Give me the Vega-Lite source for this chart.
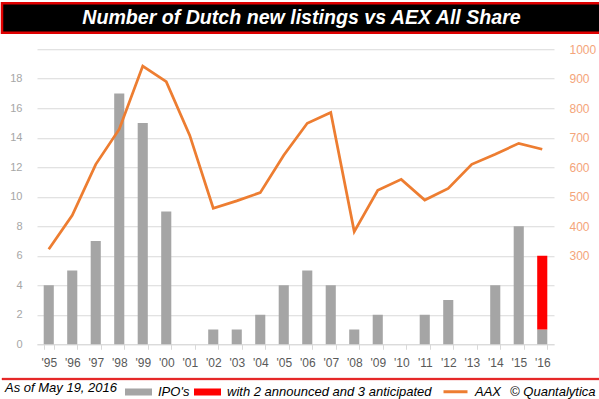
{
  "$schema": "https://vega.github.io/schema/vega-lite/v6.json",
  "padding": {"top": 1.25, "left": 0, "right": 0, "bottom": 0},
  "background": "white",
  "spacing": 9,
  "datasets": {
    "bars": [
      {"year": "'95", "type": "IPO's", "count": 4},
      {"year": "'96", "type": "IPO's", "count": 5},
      {"year": "'97", "type": "IPO's", "count": 7},
      {"year": "'98", "type": "IPO's", "count": 17},
      {"year": "'99", "type": "IPO's", "count": 15},
      {"year": "'00", "type": "IPO's", "count": 9},
      {"year": "'01", "type": "IPO's", "count": 0},
      {"year": "'02", "type": "IPO's", "count": 1},
      {"year": "'03", "type": "IPO's", "count": 1},
      {"year": "'04", "type": "IPO's", "count": 2},
      {"year": "'05", "type": "IPO's", "count": 4},
      {"year": "'06", "type": "IPO's", "count": 5},
      {"year": "'07", "type": "IPO's", "count": 4},
      {"year": "'08", "type": "IPO's", "count": 1},
      {"year": "'09", "type": "IPO's", "count": 2},
      {"year": "'10", "type": "IPO's", "count": 0},
      {"year": "'11", "type": "IPO's", "count": 2},
      {"year": "'12", "type": "IPO's", "count": 3},
      {"year": "'13", "type": "IPO's", "count": 0},
      {"year": "'14", "type": "IPO's", "count": 4},
      {"year": "'15", "type": "IPO's", "count": 8},
      {"year": "'16", "type": "IPO's", "count": 1},
      {"year": "'16", "type": "with 2 announced and 3 anticipated", "count": 5}
    ],
    "aax": [
      {"year": "'95", "aax": 322},
      {"year": "'96", "aax": 437},
      {"year": "'97", "aax": 610},
      {"year": "'98", "aax": 729},
      {"year": "'99", "aax": 943},
      {"year": "'00", "aax": 890},
      {"year": "'01", "aax": 708},
      {"year": "'02", "aax": 461},
      {"year": "'03", "aax": 486},
      {"year": "'04", "aax": 514},
      {"year": "'05", "aax": 641},
      {"year": "'06", "aax": 749},
      {"year": "'07", "aax": 786},
      {"year": "'08", "aax": 382},
      {"year": "'09", "aax": 522},
      {"year": "'10", "aax": 559},
      {"year": "'11", "aax": 489},
      {"year": "'12", "aax": 528},
      {"year": "'13", "aax": 610},
      {"year": "'14", "aax": 644},
      {"year": "'15", "aax": 681},
      {"year": "'16", "aax": 661}
    ]
  },
  "config": {
    "font": "Liberation Sans",
    "view": {"stroke": null},
    "legend": {
      "orient": "none",
      "direction": "horizontal",
      "labelFont": "Liberation Sans",
      "labelFontSize": 13,
      "labelFontStyle": "italic",
      "labelColor": "#000000",
      "labelLimit": 400,
      "titleFont": "Liberation Sans",
      "titleFontSize": 13,
      "titleFontStyle": "italic",
      "titleFontWeight": "normal",
      "titleColor": "#000000",
      "titleOrient": "left",
      "titleAnchor": "middle",
      "titleBaseline": "middle",
      "titleLimit": 300,
      "titlePadding": 7,
      "labelOffset": 6,
      "columnPadding": 4,
      "padding": 0
    }
  },
  "vconcat": [
    {
      "width": 599,
      "height": 29.5,
      "view": {"fill": "#000000", "stroke": "#e00000", "strokeWidth": 2.5},
      "data": {"values": [{"t": "Number of Dutch new listings vs AEX All Share"}]},
      "mark": {"type": "text", "color": "#ffffff", "font": "Liberation Sans", "fontSize": 19.6, "fontWeight": "bold", "fontStyle": "italic", "align": "center", "baseline": "middle"},
      "encoding": {
        "text": {"field": "t"},
        "x": {"datum": 0.5, "type": "quantitative", "scale": {"domain": [0, 1]}, "axis": null},
        "y": {"datum": 0.5, "type": "quantitative", "scale": {"domain": [0, 1]}, "axis": null}
      }
    },
    {
      "width": 552,
      "height": 295,
      "layer": [
        {
          "data": {"name": "bars"},
          "mark": {"type": "bar"},
          "encoding": {
            "x": {
              "field": "year", "type": "ordinal", "sort": null,
              "scale": {"range": [35, 552], "paddingInner": 0.57, "paddingOuter": 0.285},
              "axis": {"title": null, "labelAngle": 0, "tickBand": "extent", "grid": false, "domainColor": "#d9d9d9", "tickColor": "#d9d9d9", "tickSize": 5, "labelColor": "#595959", "labelFontSize": 12, "labelPadding": 8}
            },
            "y": {
              "field": "count", "type": "quantitative", "stack": "zero",
              "scale": {"domain": [0, 20], "nice": false},
              "axis": {"title": null, "offset": -35, "values": [0, 2, 4, 6, 8, 10, 12, 14, 16, 18, 20], "labelExpr": "datum.value == 20 ? '' : datum.label", "gridColor": "#d9d9d9", "domain": false, "ticks": false, "labelPadding": 15, "labelColor": "#a6a6a6", "labelFontSize": 11}
            },
            "order": {"field": "type", "sort": "ascending"},
            "color": {
              "field": "type", "type": "nominal",
              "scale": {"domain": ["IPO's", "with 2 announced and 3 anticipated"], "range": ["#a5a5a5", "#ff0000"]},
              "legend": {"title": "As of May 19, 2016", "symbolType": "M-1,-0.26H1V0.26H-1Z", "symbolSize": 729, "symbolStrokeWidth": 0, "legendX": 3, "legendY": 375}
            }
          }
        },
        {
          "data": {"name": "aax"},
          "mark": {"type": "line", "strokeWidth": 2.75},
          "encoding": {
            "x": {"field": "year", "type": "ordinal", "sort": null},
            "y": {
              "field": "aax", "type": "quantitative",
              "scale": {"domain": [0, 1000], "nice": false},
              "axis": {"orient": "right", "title": null, "format": "d", "values": [300, 400, 500, 600, 700, 800, 900, 1000], "grid": false, "domain": false, "ticks": false, "labelPadding": 15, "labelColor": "#f4a57a", "labelFontSize": 12}
            },
            "stroke": {
              "datum": "AAX\u2002\u2009© Quantalytica", "type": "nominal",
              "scale": {"range": ["#ed7d31"]},
              "legend": {"title": null, "symbolType": "stroke", "symbolSize": 576, "symbolStrokeWidth": 3, "legendX": 440, "legendY": 375}
            }
          }
        }
      ],
      "resolve": {"scale": {"y": "independent"}}
    },
    {
      "width": 599,
      "height": 1.5,
      "view": {"fill": "#e00000", "stroke": "#e00000", "strokeWidth": 0.5},
      "data": {"values": [{"k": 0}]},
      "mark": {"type": "rule", "opacity": 0},
      "encoding": {}
    }
  ]
}
